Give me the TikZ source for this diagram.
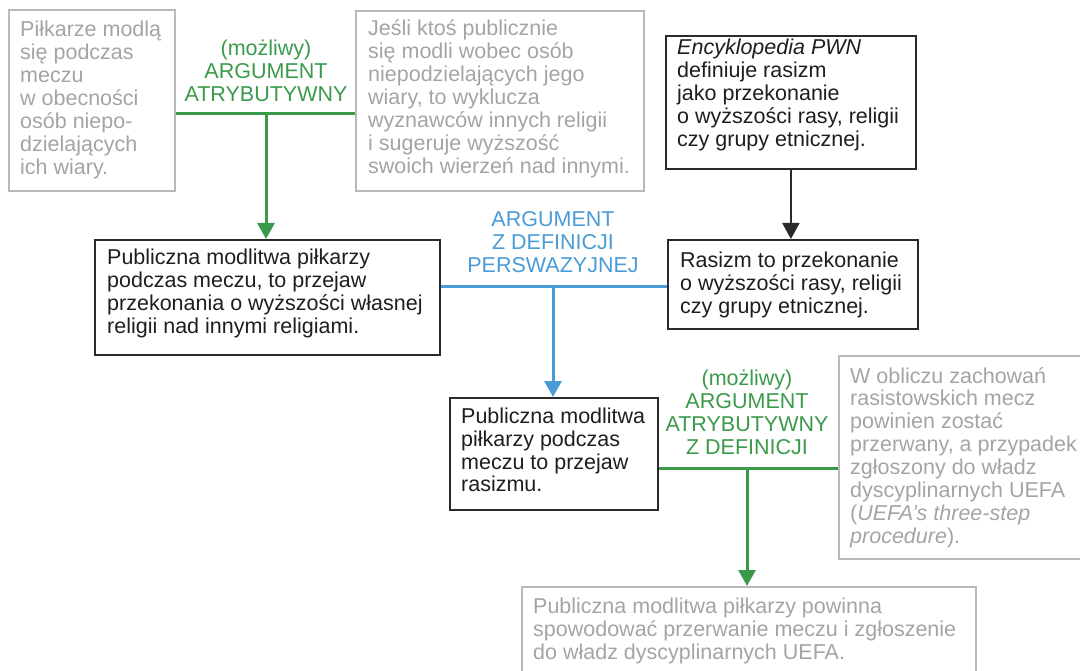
\documentclass[tikz,border=0pt]{standalone}
\usepackage{fontspec}
\setmainfont{Liberation Sans}
\usetikzlibrary{arrows.meta}

\definecolor{inkdark}{HTML}{1E1E1E}
\definecolor{framedark}{HTML}{2A2A2A}
\definecolor{inkgray}{HTML}{A4A4A7}
\definecolor{framegray}{HTML}{B8B8B8}
\definecolor{argreen}{HTML}{3A9A4A}
\definecolor{arblue}{HTML}{4A9BD6}

% left-aligned block of lines, baseline = first line
\newcommand{\leftlines}[1]{\parbox[t]{600pt}{\raggedright #1}}
% centred block of lines, baseline = first line
\newcommand{\midlines}[1]{\parbox[t]{240pt}{\centering #1}}

\begin{document}
\begin{tikzpicture}[x=1pt,y=-1pt,
  basefont/.style={font=\fontsize{21.5}{23}\selectfont},
  txt/.style={basefont, inner sep=0pt, anchor=base west},
  lbl/.style={basefont, inner sep=0pt, anchor=base},
  darkbox/.style={draw=framedark, line width=1.8pt, inner sep=0pt, anchor=north west},
  graybox/.style={draw=framegray, line width=1.8pt, inner sep=0pt, anchor=north west},
  tip/.style={-{Triangle[length=16pt,width=17pt]}},
  greenline/.style={draw=argreen, line width=3pt},
  blueline/.style={draw=arblue, line width=3pt},
  darkline/.style={draw=framedark, line width=2pt},
]
\useasboundingbox (0,0) rectangle (1080,671);

% ---------- boxes ----------
\node[graybox, minimum width=166pt, minimum height=181pt] (b1) at (8,9) {};
\node[graybox, minimum width=288pt, minimum height=180pt] (b3) at (355,10) {};
\node[darkbox, minimum width=250pt, minimum height=133pt] (b4) at (665,35) {};
\node[darkbox, minimum width=345pt, minimum height=115pt] (b2) at (94,239) {};
\node[darkbox, minimum width=250pt, minimum height=89pt]  (b5) at (667,239) {};
\node[darkbox, minimum width=208pt, minimum height=112pt] (b6) at (449,397) {};
\node[graybox, minimum width=250pt, minimum height=203pt] (b7) at (838,355) {};
\node[graybox, minimum width=454pt, minimum height=90pt]  (b8) at (521,586) {};

% ---------- box texts ----------
\node[txt, text=inkgray] (t1) at (20,37) {\leftlines{Piłkarze modlą\\się podczas\\meczu\\w obecności\\osób niepo-\\dzielających\\ich wiary.}};
\node[txt, text=inkgray] (t3) at (368,36) {\leftlines{Jeśli ktoś publicznie\\się modli wobec osób\\niepodzielających jego\\wiary, to wyklucza\\wyznawców innych religii\\i sugeruje wyższość\\swoich wierzeń nad innymi.}};
\node[txt, text=inkdark] (t4) at (677,55) {\leftlines{\textit{Encyklopedia PWN}\\definiuje rasizm\\jako przekonanie\\o wyższości rasy, religii\\czy grupy etnicznej.}};
\node[txt, text=inkdark] (t2) at (107,265) {\leftlines{Publiczna modlitwa piłkarzy\\podczas meczu, to przejaw\\przekonania o wyższości własnej\\religii nad innymi religiami.}};
\node[txt, text=inkdark] (t5) at (680,268) {\leftlines{Rasizm to przekonanie\\o wyższości rasy, religii\\czy grupy etnicznej.}};
\node[txt, text=inkdark] (t6) at (461,423) {\leftlines{Publiczna modlitwa\\piłkarzy podczas\\meczu to przejaw\\rasizmu.}};
\node[txt, text=inkgray] (t7) at (850,383) {\leftlines{W obliczu zachowań\\rasistowskich mecz\\powinien zostać\\przerwany, a przypadek\\zgłoszony do władz\\dyscyplinarnych UEFA\\(\textit{UEFA’s three-step}\\\textit{procedure}).}};
\node[txt, text=inkgray] (t8) at (533,613) {\leftlines{Publiczna modlitwa piłkarzy powinna\\spowodować przerwanie meczu i zgłoszenie\\do władz dyscyplinarnych UEFA.}};

% ---------- argument labels ----------
\node[lbl, text=argreen] (l1) at (266,56) {\midlines{(możliwy)\\ARGUMENT\\ATRYBUTYWNY}};
\node[lbl, text=arblue] (l2) at (553,227) {\midlines{ARGUMENT\\Z DEFINICJI\\PERSWAZYJNEJ}};
\node[lbl, text=argreen] (l3) at (747,385) {\midlines{(możliwy)\\ARGUMENT\\ATRYBUTYWNY\\Z DEFINICJI}};

% ---------- junctions ----------
\coordinate (j1) at (266,114);
\coordinate (j2) at (553,287);
\coordinate (j3) at (747,468);

% ---------- connectors ----------
\draw[greenline] (b1.east |- j1) -- (b3.west |- j1);
\draw[greenline, tip, fill=argreen] (j1) -- (b2.north -| j1);

\draw[darkline, tip, fill=framedark] (b4.south) -- (b4.south |- b5.north);

\draw[blueline] (b2.east |- j2) -- (b5.west |- j2);
\draw[blueline, tip, fill=arblue] (j2) -- (b6.north -| j2);

\draw[greenline] (b6.east |- j3) -- (b7.west |- j3);
\draw[greenline, tip, fill=argreen] (j3) -- (b8.north -| j3);
\end{tikzpicture}
\end{document}
